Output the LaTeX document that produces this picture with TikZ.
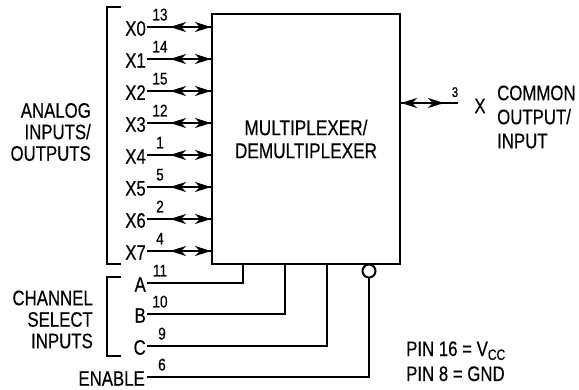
\documentclass[tikz,border=0pt]{standalone}
\usepackage{fontspec}
\setmainfont{Liberation Sans}[FakeStretch=0.8,FakeBold=0.4]
\usetikzlibrary{arrows.meta,calc}
\tikzset{
  wire/.style={line width=2pt},
  tip/.tip={Stealth[length=16pt,width=10pt,inset=5pt]},
  dbl/.style={line width=2pt,{tip}-{tip}},
  lbl/.style={inner sep=0pt,font=\fontsize{21}{21}\selectfont},
  blk/.style={inner sep=0pt,font=\fontsize{21}{21.5}\selectfont},
  pinno/.style={inner sep=0pt,anchor=base,font=\fontsize{17}{17}\selectfont},
  mux/.style={draw,line width=2pt,minimum width=188pt,minimum height=250pt,inner sep=0pt,align=center,font=\fontsize{21.5}{23}\selectfont}
}
\begin{document}
\begin{tikzpicture}[x=1pt,y=-1pt]
\useasboundingbox (0,0) rectangle (579,390);
% main box
\node[mux] (mux) at (306,139) {MULTIPLEXER/\\DEMULTIPLEXER};
% analog rows
\foreach \i/\p in {0/13,1/14,2/15,3/12,4/1,5/5,6/2,7/4} {
  \pgfmathsetmacro\yy{27+32*\i}
  \node[lbl,anchor=east] (x\i) at (146,\yy+1.5) {X\i};
  \coordinate (s\i) at (147,\yy);
  \coordinate (e\i) at (mux.west |- s\i);
  \draw[wire] (s\i) -- (e\i);
  \draw[dbl] ($(e\i)+(-41,0)$) -- (e\i);
  \node[pinno] (p\i) at ($(s\i)+(13,-6.5)$) {\p};
}
% analog bracket
\draw[wire] (121,7) -- (107,7) -- (107,264) -- (121,264);
\node[blk,anchor=east,align=right] (analog) at (91,132) {ANALOG\\INPUTS/\\OUTPUTS};
% channel select
\node[lbl,anchor=east] (la) at (146,284.5) {A};
\node[lbl,anchor=east] (lb) at (146,315.5) {B};
\node[lbl,anchor=east] (lc) at (146,347.5) {C};
\node[lbl,anchor=east] (len) at (145,378.5) {ENABLE};
\coordinate (sa) at (147,283);
\coordinate (sb) at (147,314);
\coordinate (sc) at (147,346);
\coordinate (se) at (147,377);
\coordinate (ba) at (243,283);
\coordinate (bb) at (285,314);
\coordinate (bc) at (327,346);
\coordinate (be) at (369,377);
\draw[wire] (sa) -- (ba) -- (ba |- mux.south);
\draw[wire] (sb) -- (bb) -- (bb |- mux.south);
\draw[wire] (sc) -- (bc) -- (bc |- mux.south);
\node[draw,circle,line width=2pt,minimum size=13pt,inner sep=0pt,fill=white] (inv) at (be |- 0,271) {};
\draw[wire] (se) -- (be) -- (inv.south);
\node[pinno] (pa) at ($(sa)+(13,-6.5)$) {11};
\node[pinno] (pb) at ($(sb)+(13,-6.5)$) {10};
\node[pinno] (pc) at ($(sc)+(15,-6.5)$) {9};
\node[pinno] (pe) at ($(se)+(15,-6.5)$) {6};
\draw[wire] (121,277) -- (107,277) -- (107,356) -- (121,356);
\node[blk,anchor=east,align=right] (chan) at (93,319.5) {CHANNEL\\SELECT\\INPUTS};
% common
\coordinate (cs) at (mux.east |- 0,103);
\coordinate (ce) at (458,103);
\draw[wire] (cs) -- (ce);
\draw[dbl] ($(cs)+(43,0)$) -- (cs);
\node[pinno,font=\fontsize{14}{14}\selectfont] (p3) at (455,97) {3};
\node[lbl] (xc) at (480,106) {X};
\node[blk,anchor=west,align=left,font=\fontsize{21}{24}\selectfont] (common) at (497,117) {COMMON\\OUTPUT/\\INPUT};
% power note
\node[lbl,anchor=base west] (vcc) at (406,356) {PIN 16 = V\raisebox{-0.35ex}{\fontsize{15}{15}\selectfont CC}};
\node[lbl,anchor=base west] (gnd) at (406,381) {PIN 8 = GND};
\end{tikzpicture}
\end{document}
